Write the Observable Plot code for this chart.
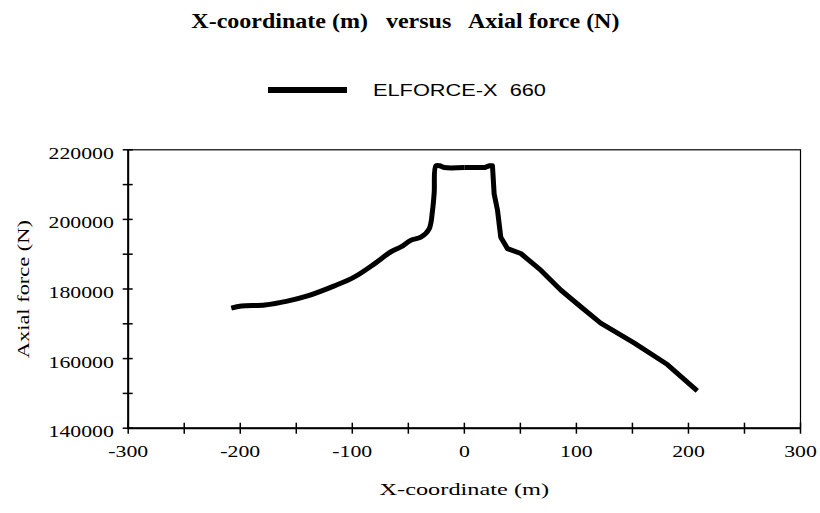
<!DOCTYPE html>
<html><head><meta charset="utf-8">
<script src="https://cdn.jsdelivr.net/npm/d3@7"></script>
<script src="https://cdn.jsdelivr.net/npm/@observablehq/plot@0.6"></script>
<style>
body{margin:0;background:#fff;}
#wrap{position:relative;width:820px;height:513px;overflow:hidden;background:#fff;}
#head{position:relative;width:820px;height:120px;}
#title{position:absolute;left:0;width:810px;top:11px;text-align:center;font:bold 20px "Liberation Serif","Times New Roman",serif;line-height:20px;color:#000;}
#title span{display:inline-block;transform:scaleX(1.2);white-space:pre;}
#sw{position:absolute;left:268px;top:87px;width:79px;height:6px;background:#000;}
#lt{position:absolute;left:373px;top:83px;font:16px "Liberation Sans",Arial,sans-serif;line-height:16px;white-space:pre;transform:scaleX(1.36);transform-origin:0 0;color:#000;}
#chart{position:relative;width:820px;height:393px;}
</style>
</head>
<body>
<div id="wrap">
  <div id="head">
    <div id="title"><span>X-coordinate (m)   versus   Axial force (N)</span></div>
    <div id="sw"></div>
    <div id="lt"></div>
  </div>
  <div id="chart"></div>
</div>
<script>
// Data
const xCoord = [-208, -199, -178, -158, -140, -116, -98, -80, -65.5, -56.6, -47.7, -38.8, -31.4, -28.4, -26.9, -25.4, -22, -18, 0, 18, 22, 25.1, 26.6, 29.6, 32.5, 38.5, 50.4, 68.2, 86, 103.9, 121.7, 151.4, 181.2, 207.9];
const axialForce = [174500, 175100, 175400, 176500, 178000, 180900, 183500, 187300, 190700, 192100, 194000, 194900, 197300, 202600, 207800, 215400, 215400, 214900, 214900, 214900, 215400, 215400, 207300, 202600, 194900, 191600, 190200, 185400, 179700, 174900, 170200, 164500, 158300, 150700];

const xTickLabels = [-300, -200, -100, 0, 100, 200, 300];
const xTickMarks = [-300, -250, -200, -150, -100, -50, 0, 50, 100, 150, 200, 250, 300];
const yTickLabels = [140000, 160000, 180000, 200000, 220000];
const yTickMarks = [140000, 150000, 160000, 170000, 180000, 190000, 200000, 210000, 220000];
const seriesName = "ELFORCE-X  660";
const xLabel = "X-coordinate (m)";
const yLabel = "Axial force (N)";

const data = xCoord.map((x, i) => ({x, y: axialForce[i]}));
const leftPart = data.filter(d => d.x <= 0);
const rightPart = data.filter(d => d.x >= 0);

const mT = 29.3, mB = 85.3, mL = 127.7, mR = 20, totalH = 393, totalW = 820;
const W = totalW - mL - mR, H = totalH - mT - mB;
const lineStyle = {x: "x", y: "y", stroke: "#000", strokeWidth: 5, strokeLinejoin: "round", strokeLinecap: "butt"};

const chart = Plot.plot({
  width: totalW, height: totalH,
  marginTop: mT, marginBottom: mB, marginLeft: mL, marginRight: mR,
  style: {fontFamily: '"Liberation Serif","Times New Roman",serif', fontSize: "17px", color: "#000", background: "#fff"},
  x: {domain: [-300, 300]},
  y: {domain: [140000, 220000]},
  marks: [
    Plot.frame({stroke: "#000", strokeWidth: 1.2}),
    Plot.ruleX([-300], {stroke: "#000", strokeWidth: 2}),
    Plot.ruleY([140000], {stroke: "#000", strokeWidth: 2}),
    Plot.ruleX(xTickMarks, {stroke: "#000", strokeWidth: 1.5, insetTop: H - 5, insetBottom: -6}),
    Plot.ruleY(yTickMarks, {stroke: "#000", strokeWidth: 1.5, insetLeft: -5, insetRight: W - 5}),
    Plot.axisX(xTickLabels, {tickSize: 0, tickPadding: 17, label: null, tickFormat: d => String(d), fontSize: 17}),
    Plot.axisY(yTickLabels, {tickSize: 0, tickPadding: 14.4, label: null, dy: 3.5, tickFormat: d => String(d), fontSize: 17}),
    Plot.line(leftPart, {...lineStyle, curve: "catmull-rom"}),
    Plot.line(rightPart, {...lineStyle, curve: "linear"}),
    Plot.text([yLabel], {frameAnchor: "left", rotate: -90, dx: -105, text: d => d, fontSize: 17.5}),
    Plot.text([xLabel], {frameAnchor: "bottom", dy: 67, text: d => d, fontSize: 17.5})
  ]
});
document.getElementById("chart").append(chart);
document.getElementById("lt").textContent = seriesName;

// The reference's text is horizontally wide; stretch glyphs along the baseline
chart.querySelectorAll("text").forEach(t => {
  const s = t.textContent;
  const f = s === xLabel ? 1.39 : s === yLabel ? 1.28 : 1.28;
  const L = t.getComputedTextLength();
  if (L > 0) {
    t.setAttribute("textLength", (L * f).toFixed(1));
    t.setAttribute("lengthAdjust", "spacingAndGlyphs");
  }
  if (s === yLabel || s === xLabel) {
    // keep the stretched label centred on its anchor
    const b = t.getBBox();
    const x0 = parseFloat(t.getAttribute("x") || "0");
    t.setAttribute("x", (x0 - (b.x + b.width / 2)).toFixed(1));
  }
});
</script>
</body></html>
